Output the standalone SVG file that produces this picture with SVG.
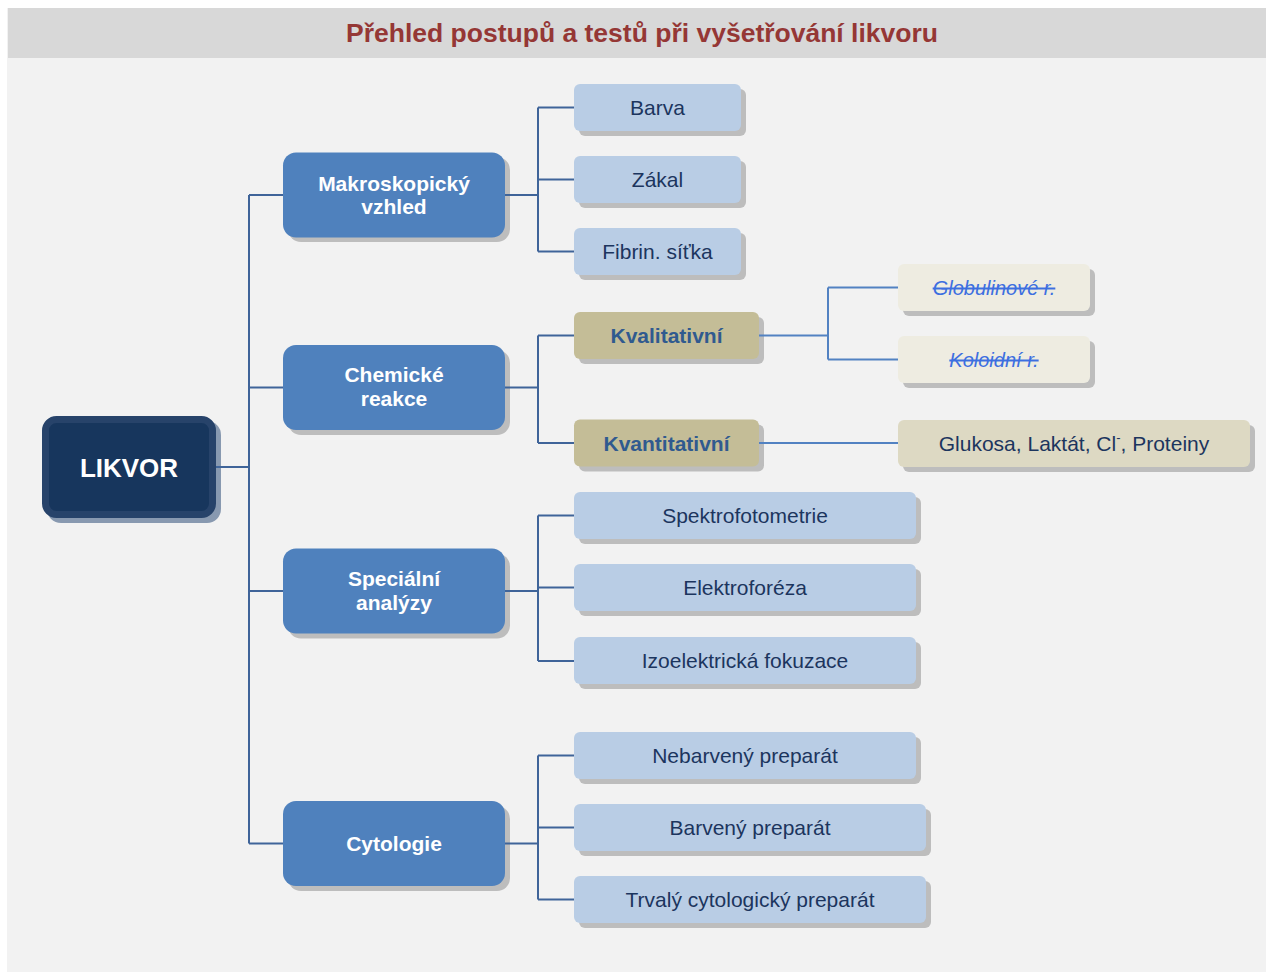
<svg xmlns="http://www.w3.org/2000/svg" width="1266" height="972" viewBox="0 0 1266 972">
<style>
.sh{fill:#BDBDBD}
.l1{fill:#4F81BD}
.lb{fill:#B9CDE5}
.tan{fill:#C4BD97}
.pale{fill:#EEECE1}
.gl{fill:#DDD9C3}
.t1{font-family:"Liberation Sans",Arial,sans-serif;font-weight:bold;font-size:21px;fill:#FFFFFF;text-anchor:middle}
.t2{font-family:"Liberation Sans",Arial,sans-serif;font-size:21px;fill:#1C355E;text-anchor:middle}
.t3{font-family:"Liberation Sans",Arial,sans-serif;font-weight:bold;font-size:21px;fill:#305A8F;text-anchor:middle}
.t4{font-family:"Liberation Sans",Arial,sans-serif;font-style:italic;font-size:20px;fill:#3D6FE0;text-anchor:middle;text-decoration:line-through}
.cn{fill:none;stroke:#3F6499;stroke-width:2}
.cn2{fill:none;stroke:#5282C2;stroke-width:2}
</style>
<rect x="0" y="0" width="1266" height="972" fill="#FFFFFF"/>
<rect x="7" y="8" width="1259" height="964" fill="#F2F2F2"/>
<rect x="8" y="8" width="1258" height="50" fill="#D8D8D8"/>
<text x="642" y="42" font-family="'Liberation Sans',Arial,sans-serif" font-weight="bold" font-size="26.5" fill="#953735" text-anchor="middle">Přehled postupů a testů při vyšetřování likvoru</text>

<g id="likvor">
<rect x="47" y="421" width="174" height="102" rx="14" fill="#8899B0"/>
<rect x="45.5" y="419.5" width="167" height="95" rx="11" fill="#17365D" stroke="#27436A" stroke-width="7"/>
<text x="129" y="477" font-family="'Liberation Sans',Arial,sans-serif" font-weight="bold" font-size="26" fill="#FFFFFF" text-anchor="middle">LIKVOR</text>
</g>

<g id="makro">
<rect class="sh" x="288" y="157" width="222" height="85" rx="13"/>
<rect class="l1" x="283" y="152.5" width="222" height="85" rx="13"/>
<text class="t1" x="394" y="190.5">Makroskopický</text>
<text class="t1" x="394" y="214">vzhled</text>
</g>
<g id="chem">
<rect class="sh" x="288" y="350" width="222" height="85" rx="13"/>
<rect class="l1" x="283" y="345" width="222" height="85" rx="13"/>
<text class="t1" x="394" y="382">Chemické</text>
<text class="t1" x="394" y="406">reakce</text>
</g>
<g id="spec">
<rect class="sh" x="288" y="553.5" width="222" height="85" rx="13"/>
<rect class="l1" x="283" y="548.5" width="222" height="85" rx="13"/>
<text class="t1" x="394" y="586">Speciální</text>
<text class="t1" x="394" y="609.5">analýzy</text>
</g>
<g id="cyto">
<rect class="sh" x="288" y="806" width="222" height="85" rx="13"/>
<rect class="l1" x="283" y="801" width="222" height="85" rx="13"/>
<text class="t1" x="394" y="851">Cytologie</text>
</g>

<g id="barva">
<rect class="sh" x="579" y="89" width="167" height="47" rx="6"/>
<rect class="lb" x="574" y="84" width="167" height="47" rx="6"/>
<text class="t2" x="657.5" y="115">Barva</text>
</g>
<g id="zakal">
<rect class="sh" x="579" y="161" width="167" height="47" rx="6"/>
<rect class="lb" x="574" y="156" width="167" height="47" rx="6"/>
<text class="t2" x="657.5" y="187">Zákal</text>
</g>
<g id="fibrin">
<rect class="sh" x="579" y="233" width="167" height="47" rx="6"/>
<rect class="lb" x="574" y="228" width="167" height="47" rx="6"/>
<text class="t2" x="657.5" y="259">Fibrin. síťka</text>
</g>

<g id="kvalit">
<rect class="sh" x="579" y="317" width="185" height="47" rx="6"/>
<rect class="tan" x="574" y="312" width="185" height="47" rx="6"/>
<text class="t3" x="666.5" y="343">Kvalitativní</text>
</g>
<g id="kvantit">
<rect class="sh" x="579" y="424.5" width="185" height="47" rx="6"/>
<rect class="tan" x="574" y="419.5" width="185" height="47" rx="6"/>
<text class="t3" x="666.5" y="450.5">Kvantitativní</text>
</g>

<g id="globulin">
<rect class="sh" x="903" y="269" width="192" height="47" rx="6"/>
<rect class="pale" x="898" y="264" width="192" height="47" rx="6"/>
<text class="t4" x="994" y="294.5">Globulinové r.</text>
</g>
<g id="koloid">
<rect class="sh" x="903" y="341" width="192" height="47" rx="6"/>
<rect class="pale" x="898" y="336" width="192" height="47" rx="6"/>
<text class="t4" x="994" y="366.5">Koloidní r.</text>
</g>
<g id="glukosa">
<rect class="sh" x="903" y="425" width="352" height="47" rx="6"/>
<rect class="gl" x="898" y="420" width="352" height="47" rx="6"/>
<text class="t2" x="1074" y="451">Glukosa, Laktát, Cl<tspan font-size="13" dy="-9">-</tspan><tspan dy="9">, Proteiny</tspan></text>
</g>

<g id="spektro">
<rect class="sh" x="579" y="497" width="342" height="47" rx="6"/>
<rect class="lb" x="574" y="492" width="342" height="47" rx="6"/>
<text class="t2" x="745" y="523">Spektrofotometrie</text>
</g>
<g id="elektro">
<rect class="sh" x="579" y="569" width="342" height="47" rx="6"/>
<rect class="lb" x="574" y="564" width="342" height="47" rx="6"/>
<text class="t2" x="745" y="595">Elektroforéza</text>
</g>
<g id="izo">
<rect class="sh" x="579" y="642" width="342" height="47" rx="6"/>
<rect class="lb" x="574" y="637" width="342" height="47" rx="6"/>
<text class="t2" x="745" y="668">Izoelektrická fokuzace</text>
</g>

<g id="nebarveny">
<rect class="sh" x="579" y="737" width="342" height="47" rx="6"/>
<rect class="lb" x="574" y="732" width="342" height="47" rx="6"/>
<text class="t2" x="745" y="763">Nebarvený preparát</text>
</g>
<g id="barveny">
<rect class="sh" x="579" y="809" width="352" height="47" rx="6"/>
<rect class="lb" x="574" y="804" width="352" height="47" rx="6"/>
<text class="t2" x="750" y="835">Barvený preparát</text>
</g>
<g id="trvaly">
<rect class="sh" x="579" y="881" width="352" height="47" rx="6"/>
<rect class="lb" x="574" y="876" width="352" height="47" rx="6"/>
<text class="t2" x="750" y="907">Trvalý cytologický preparát</text>
</g>

<g id="connectors">
<path class="cn" d="M216,467H249M249,195V843.5M249,195H283M249,387.5H283M249,591H283M249,843.5H283"/>
<path class="cn" d="M505,195H538M538,107.5V251.5M538,107.5H574M538,179.5H574M538,251.5H574"/>
<path class="cn" d="M505,387.5H538M538,335.5V443M538,335.5H574M538,443H574"/>
<path class="cn2" d="M759,335.5H828M828,287.5V359.5M828,287.5H898M828,359.5H898"/>
<path class="cn2" d="M759,443H898"/>
<path class="cn" d="M505,591H538M538,515.5V661M538,515.5H574M538,587.5H574M538,661H574"/>
<path class="cn" d="M505,843.5H538M538,755.5V899.5M538,755.5H574M538,827.5H574M538,899.5H574"/>
</g>
</svg>
